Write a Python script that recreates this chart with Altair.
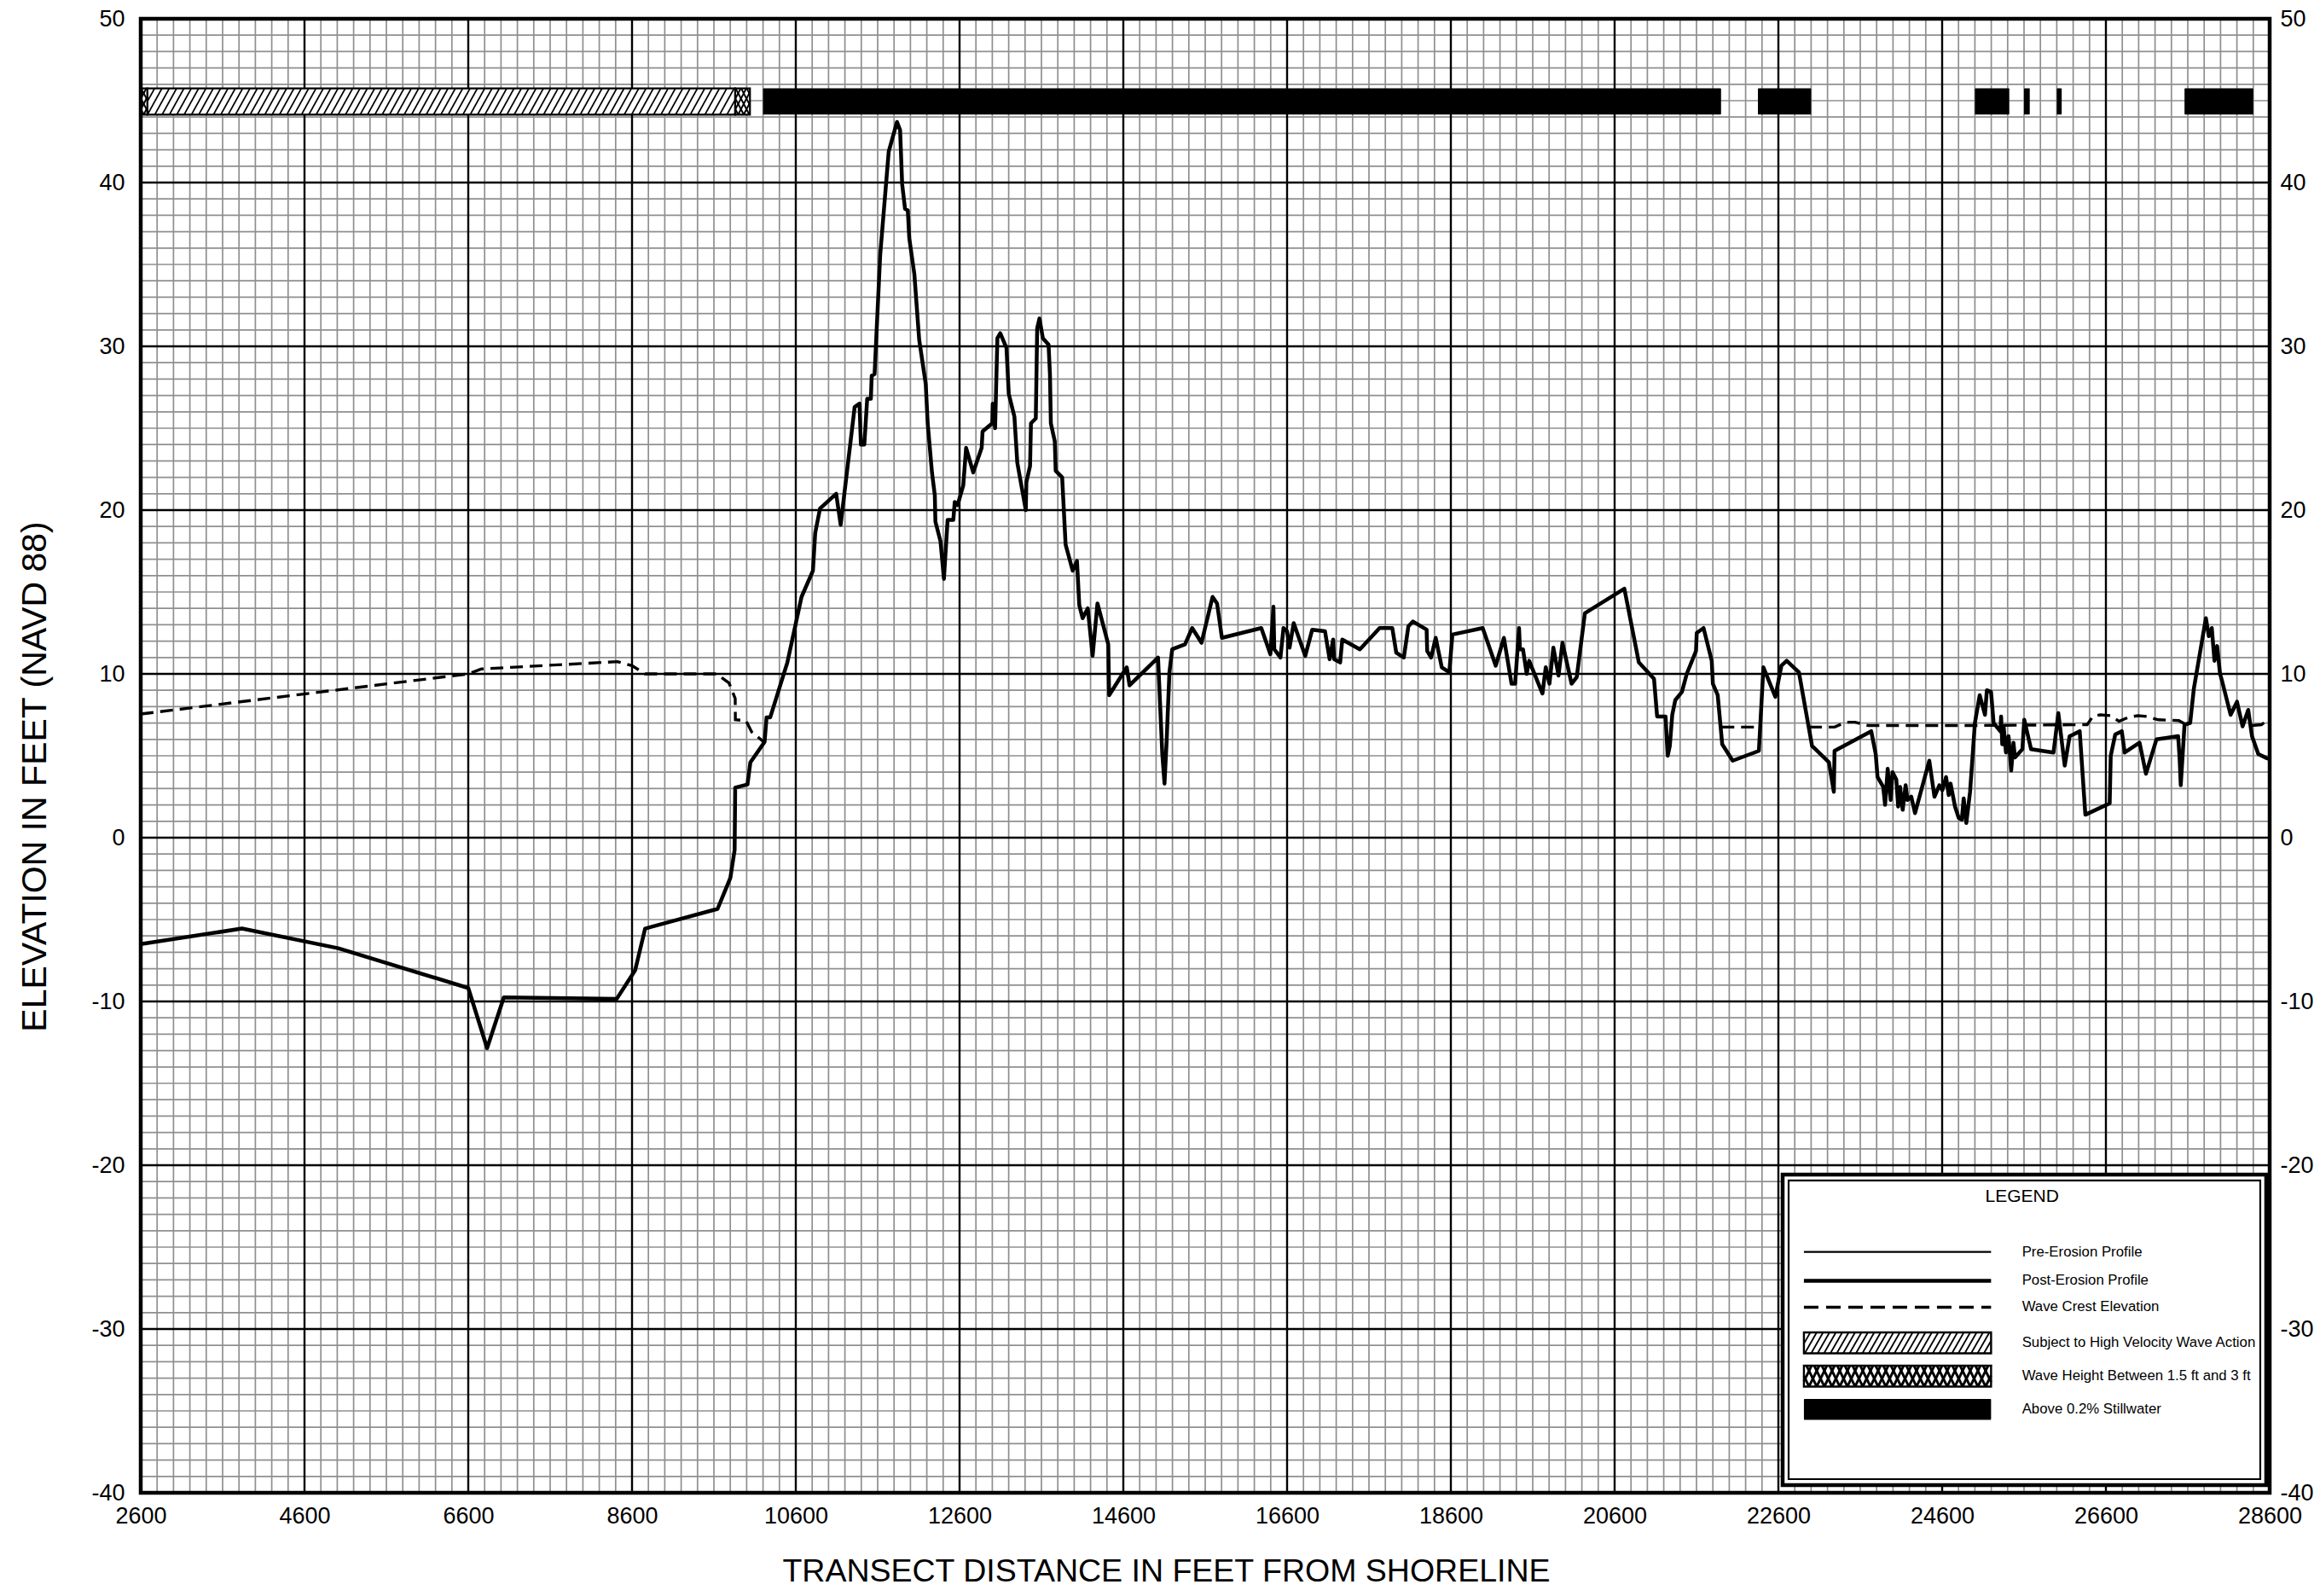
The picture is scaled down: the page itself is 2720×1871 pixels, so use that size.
import altair as alt
import pandas as pd

# ---------------- data ----------------
X_DOMAIN = [2600, 28600]
Y_DOMAIN = [-40, 50]
x_tick_values = list(range(2600, 28601, 2000))
y_tick_values = list(range(-40, 51, 10))

profile_x = [2600, 3836, 5012, 6600, 6830, 7034, 8412, 8638, 8760, 9645, 9801, 9853, 9860,
             10010, 10045, 10219, 10243, 10288, 10497, 10670, 10809, 10837, 10896, 11093, 11148,
             11319, 11378, 11395, 11437, 11472, 11517, 11527, 11562, 11631, 11735, 11836, 11874,
             11899, 11934, 11968, 11986, 12048, 12107, 12187, 12211, 12263, 12298, 12305, 12367,
             12409, 12454, 12524, 12541, 12576, 12645, 12680, 12767, 12870, 12881, 12999, 13005,
             13034, 13062, 13097, 13173, 13201, 13270, 13305, 13409, 13416, 13461, 13472, 13531,
             13548, 13576, 13617, 13687, 13704, 13715, 13763, 13774, 13853, 13895, 13982, 14034,
             14062, 14103, 14166, 14225, 14284, 14416, 14427, 14642, 14676, 15024, 15076, 15103,
             15128, 15163, 15197, 15353, 15441, 15555, 15690, 15745, 15804, 16285, 16396, 16433,
             16444, 16519, 16556, 16600, 16630, 16681, 16822, 16907, 17063, 17119, 17163, 17174,
             17248, 17274, 17489, 17730, 17885, 17933, 18026, 18081, 18137, 18304, 18311, 18359,
             18415, 18489, 18581, 18619, 18989, 19148, 19248, 19341, 19385, 19433, 19444, 19481,
             19526, 19556, 19719, 19759, 19804, 19852, 19915, 19963, 20074, 20137, 20237, 20719,
             20896, 21081, 21119, 21222, 21248, 21274, 21304, 21341, 21422, 21481, 21594, 21603,
             21686, 21786, 21800, 21859, 21914, 22042, 22362, 22417, 22563, 22637, 22701, 22851,
             23011, 23217, 23277, 23286, 23734, 23789, 23811, 23880, 23903, 23935, 23971, 23994,
             24040, 24063, 24086, 24118, 24154, 24177, 24223, 24269, 24443, 24506, 24566, 24602,
             24648, 24680, 24703, 24757, 24803, 24840, 24863, 24895, 24941, 25000, 25059, 25123,
             25146, 25197, 25229, 25311, 25320, 25334, 25351, 25379, 25411, 25443, 25471, 25489,
             25580, 25603, 25686, 25960, 26019, 26097, 26157, 26203, 26280, 26349, 26646, 26659,
             26714, 26794, 26829, 27011, 27089, 27217, 27482, 27500, 27514, 27560, 27629, 27674,
             27821, 27857, 27893, 27926, 27958, 27994, 28017, 28123, 28201, 28269, 28338, 28384,
             28461, 28566, 28600]
profile_y = [-6.5, -5.55, -6.75, -9.18, -12.85, -9.75, -9.85, -8.1, -5.55, -4.35, -2.45, -0.75, 3.05,
             3.25, 4.6, 5.85, 7.35, 7.35, 10.7, 14.7, 16.3, 18.6, 20.1, 21.0, 19.1,
             26.3, 26.5, 24.0, 24.0, 26.8, 26.8, 28.2, 28.3, 35.6, 41.9, 43.7, 43.2,
             39.9, 38.4, 38.3, 36.6, 34.4, 30.4, 27.7, 25.3, 22.3, 20.9, 19.3, 18.1,
             15.8, 19.4, 19.4, 20.5, 20.3, 21.5, 23.8, 22.3, 23.8, 24.8, 25.3, 26.5,
             25.0, 30.5, 30.8, 29.9, 27.1, 25.7, 22.9, 20.0, 21.7, 22.7, 25.3, 25.6,
             31.1, 31.7, 30.5, 30.1, 28.3, 25.3, 24.2, 22.4, 22.0, 17.9, 16.3, 16.9,
             14.2, 13.4, 14.0, 11.1, 14.3, 11.8, 8.7, 10.4, 9.3, 11.0, 5.1, 3.3,
             5.8, 10.1, 11.5, 11.8, 12.8, 11.9, 14.7, 14.3, 12.2, 12.8, 11.2, 14.1,
             11.5, 11.0, 12.8, 12.6, 11.6, 13.1, 11.1, 12.7, 12.6, 10.9, 12.1, 10.9,
             10.7, 12.1, 11.5, 12.8, 12.8, 11.3, 11.0, 12.9, 13.2, 12.7, 11.4, 11.0,
             12.2, 10.4, 10.1, 12.4, 12.8, 10.5, 12.2, 9.4, 9.4, 12.8, 11.5, 11.5,
             10.0, 10.8, 8.8, 10.4, 9.4, 11.6, 9.9, 11.9, 9.4, 9.8, 13.7, 15.2,
             10.7, 9.7, 7.4, 7.4, 5.0, 5.6, 7.5, 8.4, 8.9, 10.0, 11.4, 12.5,
             12.8, 10.8, 9.4, 8.7, 5.7, 4.7, 5.3, 10.4, 8.6, 10.5, 10.8, 10.1,
             5.6, 4.6, 2.8, 5.3, 6.5, 5.1, 3.7, 3.1, 2.0, 4.2, 2.3, 4.0,
             3.55, 1.9, 3.1, 1.7, 3.2, 2.3, 2.5, 1.5, 4.7, 2.5, 3.2, 2.9,
             3.7, 2.6, 3.3, 1.9, 1.2, 1.1, 2.4, 0.9, 2.8, 7.0, 8.7, 7.5,
             9.0, 8.9, 7.0, 6.5, 7.4, 5.7, 6.8, 5.2, 6.2, 4.1, 5.8, 4.9,
             5.4, 7.2, 5.4, 5.2, 7.6, 4.4, 6.2, 6.3, 6.5, 1.4, 2.1, 5.0,
             6.3, 6.5, 5.2, 5.8, 3.9, 6.0, 6.2, 4.85, 3.2, 6.9, 7.0, 9.1,
             13.4, 12.3, 12.8, 10.8, 11.7, 10.0, 9.6, 7.5, 8.3, 6.8, 7.8, 6.2,
             5.1, 4.85, 4.8]

crest_x = [2600, 6600, 6760, 8420, 8600, 8760, 9628, 9784, 9860, 9862, 9992, 10062, 10220,
           21905, 22362,
           22975, 23286, 23423, 23537, 23697, 25000, 26371, 26440, 26531, 26660, 26760, 26874,
           26989, 27100, 27240, 27491, 27560,
           28383, 28500, 28566, 28600]
crest_y = [7.55, 10.0, 10.3, 10.75, 10.5, 10.0, 10.0, 9.45, 8.5, 7.2, 7.15, 6.45, 5.8,
           6.75, 6.75,
           6.75, 6.75, 7.05, 7.05, 6.85, 6.85, 6.9, 7.4, 7.5, 7.45, 7.1, 7.35,
           7.45, 7.4, 7.2, 7.15, 6.95,
           6.85, 6.9, 7.15, 7.2]
crest_seg = [1] * 13 + [2] * 2 + [3] * 17 + [4] * 4

stillwater_start = [10200, 22350, 25000, 25600, 26000, 27560]
stillwater_end = [21900, 23000, 25420, 25670, 26060, 28400]
velocity_start = [2680]
velocity_end = [9860]
wave15_start = [2600, 9860]
wave15_end = [2680, 10040]
zone_low, zone_high = 44.15, 45.75

legend_title = "LEGEND"
legend_labels = ["Pre-Erosion Profile", "Post-Erosion Profile", "Wave Crest Elevation",
                 "Subject to High Velocity Wave Action", "Wave Height Between 1.5 ft and 3 ft",
                 "Above 0.2% Stillwater"]

# ---------------- layout helpers ----------------
W, H = 2496, 1728
FTPX = (X_DOMAIN[1] - X_DOMAIN[0]) / W
UPX = (Y_DOMAIN[1] - Y_DOMAIN[0]) / H
FONT = "Liberation Sans, Arial, Helvetica, sans-serif"
MINUS_FIX = "replace(datum.label, '\u2212', '-')"

xs = alt.Scale(domain=X_DOMAIN, nice=False, zero=False)
ys = alt.Scale(domain=Y_DOMAIN, nice=False, zero=False)
x_axis = alt.Axis(values=x_tick_values, format="d", title="TRANSECT DISTANCE IN FEET FROM SHORELINE",
                  labelFlush=False, labelPadding=14, titlePadding=33, titleFontSize=37.5,
                  titleX=1202, labelFontSize=27, labelExpr=MINUS_FIX)


def X(f="x"):
    return alt.X(f, type="quantitative", scale=xs, axis=x_axis)


def Y(f="y"):
    return alt.Y(f, type="quantitative", scale=ys, axis=None)


def hatch(x0, x1, y0, y1, spacing_px, slant_px, direction=1):
    d = direction * slant_px * FTPX
    sp = spacing_px * FTPX
    rows = []
    xb = x0 - abs(d)
    while xb < x1 + abs(d):
        ta, tb = (x0 - xb) / d, (x1 - xb) / d
        lo_t = max(0.0, min(ta, tb))
        hi_t = min(1.0, max(ta, tb))
        if hi_t > lo_t:
            rows.append({"x": xb + lo_t * d, "y": y0 + lo_t * (y1 - y0),
                         "x2": xb + hi_t * d, "y2": y0 + hi_t * (y1 - y0)})
        xb += sp
    return rows


layers = []

# grid
minor_x = [v for v in range(2800, 28600, 200) if (v - 2600) % 2000 != 0]
major_x = list(range(4600, 28600, 2000))
minor_y = [v for v in range(-39, 50) if v % 10 != 0]
major_y = list(range(-30, 50, 10))
GRAY = "#8f8f8f"
layers.append(alt.Chart(pd.DataFrame({"x": minor_x})).mark_rule(color=GRAY, strokeWidth=1.7).encode(x=X()))
layers.append(alt.Chart(pd.DataFrame({"y": minor_y})).mark_rule(color=GRAY, strokeWidth=1.7).encode(y=Y()))
layers.append(alt.Chart(pd.DataFrame({"x": major_x})).mark_rule(color="black", strokeWidth=2.4).encode(x=X()))
layers.append(alt.Chart(pd.DataFrame({"y": major_y})).mark_rule(color="black", strokeWidth=2.4).encode(y=Y()))

# zone bars along the top
sw = pd.DataFrame({"x": stillwater_start, "x2": stillwater_end, "y": zone_low, "y2": zone_high})
layers.append(alt.Chart(sw).mark_rect(color="black", cornerRadius=1).encode(x=X(), x2="x2", y=Y(), y2="y2"))

vel = pd.DataFrame({"x": velocity_start, "x2": velocity_end, "y": zone_low, "y2": zone_high})
layers.append(alt.Chart(vel).mark_rect(fill="white", stroke="black", strokeWidth=2.2).encode(x=X(), x2="x2", y=Y(), y2="y2"))
hrows = []
for a, b in zip(velocity_start, velocity_end):
    hrows += hatch(a, b, zone_low, zone_high, 8.6, 17, 1)
layers.append(alt.Chart(pd.DataFrame(hrows)).mark_rule(color="black", strokeWidth=1.8).encode(x=X(), y=Y(), x2="x2", y2="y2"))

w15 = pd.DataFrame({"x": wave15_start, "x2": wave15_end, "y": zone_low, "y2": zone_high})
layers.append(alt.Chart(w15).mark_rect(fill="white", stroke="black", strokeWidth=2.2).encode(x=X(), x2="x2", y=Y(), y2="y2"))
crows = []
for a, b in zip(wave15_start, wave15_end):
    crows += hatch(a, b, zone_low, zone_high, 6.5, 16, 1)
    crows += hatch(a, b, zone_low, zone_high, 6.5, 16, -1)
layers.append(alt.Chart(pd.DataFrame(crows)).mark_rule(color="black", strokeWidth=2.0).encode(x=X(), y=Y(), x2="x2", y2="y2"))

# wave crest and profile
crest = pd.DataFrame({"x": crest_x, "y": crest_y, "seg": crest_seg})
layers.append(alt.Chart(crest).mark_line(color="black", strokeWidth=3.4, strokeDash=[15, 8]).encode(
    x=X(), y=Y(), detail="seg:N"))

prof = pd.DataFrame({"x": profile_x, "y": profile_y})
layers.append(alt.Chart(prof).mark_line(color="black", strokeWidth=4.5, strokeJoin="round").encode(
    x=X(),
    y=alt.Y("y", type="quantitative", scale=ys,
            axis=alt.Axis(values=y_tick_values, format="d", orient="left",
                          title="ELEVATION IN FEET (NAVD 88)", titleY=888,
                          labelPadding=19, titlePadding=44, titleFontSize=41, labelFontSize=27,
                          labelExpr=MINUS_FIX))))

# frame (right axis carried by this layer)
frame = pd.DataFrame({"x": [X_DOMAIN[0]], "x2": [X_DOMAIN[1]], "y": [Y_DOMAIN[0]], "y2": [Y_DOMAIN[1]]})
layers.append(alt.Chart(frame).mark_rect(filled=False, stroke="black", strokeWidth=4.5).encode(
    x=X(), x2="x2",
    y=alt.Y("y", type="quantitative", scale=ys,
            axis=alt.Axis(values=y_tick_values, format="d", orient="right", title=None, labelPadding=12,
                          labelFontSize=27, labelExpr=MINUS_FIX)),
    y2="y2"))

# ---------------- legend ----------------
L, R, T, B = 22652, 28558, -20.57, -39.53
bw, bh = R - L, T - B
ix, iy = 7 * FTPX, 7 * UPX
legbox = pd.DataFrame({"x": [L], "x2": [R], "y": [B], "y2": [T]})
layers.append(alt.Chart(legbox).mark_rect(fill="white", stroke="black", strokeWidth=4.5).encode(
    x=X(), x2="x2", y=Y(), y2="y2"))
inner = pd.DataFrame({"x": [L + ix], "x2": [R - ix], "y": [B + iy], "y2": [T - iy]})
layers.append(alt.Chart(inner).mark_rect(filled=False, stroke="black", strokeWidth=2.2).encode(
    x=X(), x2="x2", y=Y(), y2="y2"))

row_frac = [0.249, 0.342, 0.427, 0.542, 0.649, 0.756]
row_y = [T - f * bh for f in row_frac]
text_x = L + 0.495 * bw
sx0, sx1 = L + 0.044 * bw, L + 0.431 * bw

layers.append(alt.Chart(pd.DataFrame({"x": [text_x], "y": [T - 0.071 * bh], "t": [legend_title]})).mark_text(
    font=FONT, fontSize=21, align="center", baseline="middle", color="black").encode(x=X(), y=Y(), text="t:N"))
layers.append(alt.Chart(pd.DataFrame({"x": [text_x] * 6, "y": row_y, "t": legend_labels})).mark_text(
    font=FONT, fontSize=16.8, align="left", baseline="middle", color="black").encode(x=X(), y=Y(), text="t:N"))

for i, (sw_, dash) in enumerate([(2.2, None), (4.5, None), (3.5, [17, 9])]):
    d = pd.DataFrame({"x": [sx0], "x2": [sx1], "y": [row_y[i]]})
    kw = dict(color="black", strokeWidth=sw_)
    if dash:
        kw["strokeDash"] = dash
    layers.append(alt.Chart(d).mark_rule(**kw).encode(x=X(), x2="x2", y=Y()))

half = 0.6375
# hatch swatch
y0, y1 = row_y[3] - half, row_y[3] + half
layers.append(alt.Chart(pd.DataFrame({"x": [sx0], "x2": [sx1], "y": [y0], "y2": [y1]})).mark_rect(
    fill="white", stroke="black", strokeWidth=2.4).encode(x=X(), x2="x2", y=Y(), y2="y2"))
layers.append(alt.Chart(pd.DataFrame(hatch(sx0, sx1, y0, y1, 7.5, 14, 1))).mark_rule(
    color="black", strokeWidth=1.8).encode(x=X(), y=Y(), x2="x2", y2="y2"))
# cross-hatch swatch
y0, y1 = row_y[4] - half, row_y[4] + half
layers.append(alt.Chart(pd.DataFrame({"x": [sx0], "x2": [sx1], "y": [y0], "y2": [y1]})).mark_rect(
    fill="white", stroke="black", strokeWidth=2.4).encode(x=X(), x2="x2", y=Y(), y2="y2"))
cr = hatch(sx0, sx1, y0, y1, 9, 12, 1) + hatch(sx0, sx1, y0, y1, 9, 12, -1)
layers.append(alt.Chart(pd.DataFrame(cr)).mark_rule(color="black", strokeWidth=3).encode(
    x=X(), y=Y(), x2="x2", y2="y2"))
# black swatch
y0, y1 = row_y[5] - half, row_y[5] + half
layers.append(alt.Chart(pd.DataFrame({"x": [sx0], "x2": [sx1], "y": [y0], "y2": [y1]})).mark_rect(
    fill="black", cornerRadius=1).encode(x=X(), x2="x2", y=Y(), y2="y2"))

chart = alt.layer(*layers).resolve_axis(y="independent").properties(
    width=W, height=H,
    autosize=alt.AutoSizeParams(type="none"),
    padding={"left": 157, "top": 14, "right": 51, "bottom": 113},
    background="white",
).configure_view(stroke=None).configure_axis(
    grid=False, ticks=False, domain=False, labelFont=FONT, titleFont=FONT,
    labelColor="black", titleColor="black", titleFontWeight="normal", labelOverlap=False,
)

chart.save("out.html", embed_options={"renderer": "svg", "actions": False})
